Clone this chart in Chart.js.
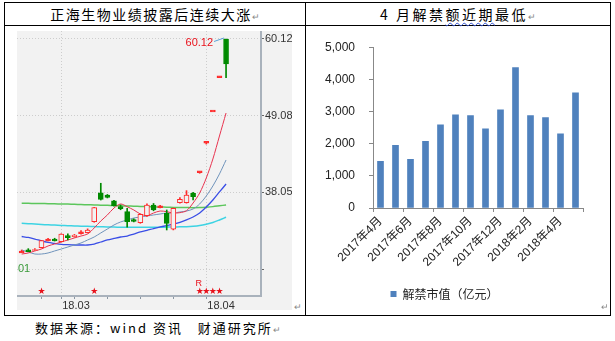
<!DOCTYPE html>
<html>
<head>
<meta charset="utf-8">
<script src="https://cdn.jsdelivr.net/npm/chart.js@4.4.0/dist/chart.umd.min.js"></script>
<style>
  html, body { margin: 0; padding: 0; background: #fff; }
  body { width: 615px; height: 341px; position: relative; overflow: hidden; font-family: "Noto Sans CJK SC", sans-serif; color: #000; }
  .frame { position: absolute; left: 4px; top: 2px; width: 607px; height: 314px; border: 1px solid #000; box-sizing: border-box; }
  .hline { position: absolute; left: 4px; top: 25px; width: 607px; height: 1px; background: #000; }
  .vline { position: absolute; left: 305px; top: 2px; width: 1px; height: 314px; background: #000; }
  .title { position: absolute; top: 3px; height: 22px; line-height: 22px; text-align: center; font-size: 14px; letter-spacing: 1.5px; white-space: nowrap; }
  .wavy { text-decoration: underline wavy #3050d0; text-decoration-thickness: 1px; text-underline-offset: 2px; }
  .mark { font-size: 9px; color: #888; letter-spacing: 0; }
  .cellmark { position: absolute; font-size: 9px; color: #888; }
  #klineWrap { position: absolute; left: 17px; top: 31px; width: 275px; height: 279px; background: #f2f2f2; }
  #barWrap { position: absolute; left: 306px; top: 26px; width: 304px; height: 288px; }
  .caption { position: absolute; left: 35px; top: 318px; font-size: 13px; letter-spacing: 2px; white-space: nowrap; }
</style>
</head>
<body>
<div class="frame"></div>
<div class="hline"></div>
<div class="vline"></div>
<div class="title" style="left:5px;width:300px;">正海生物业绩披露后连续大涨<span class="mark">↵</span></div>
<div class="title" style="left:306px;width:304px;letter-spacing:2.5px;">4 月解禁<span class="wavy">额近期</span>最低<span class="mark">↵</span></div>
<div id="klineWrap"><canvas id="klineChart" width="275" height="279"></canvas></div>
<div id="barWrap"><canvas id="unlockChart" width="304" height="288"></canvas></div>
<div class="cellmark" style="left:294px;top:300px;">↵</div>
<div class="cellmark" style="left:601px;top:300px;">↵</div>
<div class="caption">数据来源：wind 资讯&nbsp;&nbsp;&nbsp;财通研究所<span class="mark">↵</span></div>

<script>
// ---- Left panel: daily candles (index 1..32) ----
const opens  = [29.45, 29.68, 29.70, 30.09, 31.15, 31.22, 30.95, 31.82, 31.68, 32.20, 32.25, 33.83, 38.00, 37.67, 36.85, 35.99,
                35.27, 34.02, 33.69, 34.70, 36.24, 35.95, 35.04, 32.74, 36.57, 36.57, 37.92, 41.03, 45.26, 49.76, 54.70, 60.12];
const highs  = [29.75, 29.95, 29.95, 31.15, 31.45, 31.45, 32.10, 32.10, 32.00, 32.55, 32.80, 35.90, 39.36, 37.75, 36.90, 36.25,
                35.76, 34.25, 34.95, 36.40, 36.45, 36.20, 35.52, 35.80, 37.30, 38.30, 38.05, 41.03, 45.26, 49.76, 54.70, 60.12];
const lows   = [29.40, 29.55, 29.65, 30.05, 31.05, 31.05, 30.90, 31.20, 31.60, 32.05, 32.20, 33.75, 36.95, 37.25, 36.05, 35.55,
                33.03, 33.80, 33.60, 34.60, 35.40, 35.80, 32.64, 32.65, 36.50, 36.50, 36.95, 40.80, 45.00, 49.76, 54.70, 54.55];
const closes = [29.50, 29.64, 29.82, 31.10, 31.22, 31.18, 32.06, 31.53, 31.92, 32.28, 32.64, 35.85, 37.05, 37.34, 36.13, 35.70,
                33.83, 33.96, 34.90, 36.24, 35.52, 35.99, 33.60, 35.76, 37.05, 37.67, 37.43, 41.03, 45.26, 49.76, 54.70, 56.52];

// moving averages
const ma5   = [29.18, 29.33, 29.62, 29.90, 30.34, 30.62, 30.91, 31.20, 31.49, 31.77, 32.06, 32.93, 33.93, 34.80, 35.80, 36.38,
               35.99, 35.52, 34.94, 34.70, 35.08, 35.37, 35.27, 35.08, 35.13, 35.41, 36.52, 37.96, 40.12, 42.85, 46.16, 49.47];
const ma10  = [29.76, 29.47, 29.18, 29.18, 29.33, 29.62, 29.90, 30.19, 30.48, 30.77, 31.20, 31.63, 32.21, 32.78, 33.36, 33.79,
               34.08, 34.36, 34.51, 34.65, 34.80, 34.94, 35.08, 35.08, 35.23, 35.37, 35.66, 36.38, 37.53, 38.97, 40.70, 42.71];
const ma20  = [31.70, 31.56, 31.34, 31.06, 30.84, 30.70, 30.58, 30.52, 30.48, 30.48, 30.48, 30.62, 30.91, 31.20, 31.42, 31.63,
               31.77, 32.06, 32.35, 32.57, 32.85, 33.07, 33.28, 33.50, 33.72, 34.08, 34.51, 35.08, 35.95, 36.95, 38.11, 39.26];
const ma60  = [36.48, 36.47, 36.46, 36.44, 36.43, 36.41, 36.38, 36.36, 36.33, 36.30, 36.27, 36.24, 36.21, 36.18, 36.15, 36.12,
               36.09, 36.06, 36.03, 36.00, 35.97, 35.95, 35.92, 35.89, 35.87, 35.86, 35.85, 35.86, 35.92, 36.00, 36.12, 36.24];
const ma120 = [33.60, 33.55, 33.49, 33.43, 33.38, 33.34, 33.30, 33.25, 33.22, 33.19, 33.16, 33.13, 33.10, 33.07, 33.06, 33.04,
               33.03, 33.03, 33.03, 33.03, 33.03, 33.04, 33.06, 33.07, 33.09, 33.11, 33.17, 33.28, 33.47, 33.72, 34.08, 34.47];

const priceTicks = [27.01, 38.05, 49.08, 60.12];
const dateTicks = [4, 7, 9, 14, 19, 24, 29];
const dateLabels = { 7: '18.03', 29: '18.04' };
const starIdx = [4, 12, 28, 29, 30, 31];
const rIdx = 28;
const peakIdx = 32;
const peakValue = 60.12;

// ---- Right panel: monthly unlock value (亿元) ----
const months = ['2017年4月', '2017年5月', '2017年6月', '2017年7月', '2017年8月', '2017年9月', '2017年10月',
                '2017年11月', '2017年12月', '2018年1月', '2018年2月', '2018年3月', '2018年4月', '2018年5月'];
const unlockValues = [1450, 1950, 1510, 2070, 2590, 2900, 2870, 2460, 3050, 4370, 2870, 2810, 2310, 3580];

const upColor = '#ff2b2b';
const downColor = '#008a00';
const panelBg = '#f2f2f2';

// Candlestick via two overlapping floating bar datasets
const isUp = closes.map((c, i) => c >= opens[i]);
const isFlat = closes.map((c, i) => Math.abs(c - opens[i]) < 0.12);
const bodyData = opens.map((o, i) => {
  let lo = Math.min(o, closes[i]), hi = Math.max(o, closes[i]);
  // one-price days still need a visible dash
  if (isFlat[i]) { const m = (hi + lo) / 2; lo = m - 0.13; hi = m + 0.13; }
  return { x: i + 1, y: [lo, hi] };
});
const wickData = opens.map((o, i) => ({ x: i + 1, y: [lows[i], highs[i]] }));
const toPoints = arr => arr.map((v, i) => ({ x: i + 1, y: v }));
const maLine = (data, color, width) => ({
  type: 'line', data: toPoints(data), borderColor: color, borderWidth: width,
  pointRadius: 0, tension: 0.3, order: 2
});

// Stars, R marker, peak callout and the clipped left label
const klineMarks = {
  id: 'klineMarks',
  afterDatasetsDraw(chart) {
    const { ctx, chartArea } = chart;
    const x = chart.scales.x, y = chart.scales.y;
    ctx.save();
    ctx.fillStyle = '#e8101a';
    ctx.textAlign = 'center';
    ctx.textBaseline = 'middle';
    ctx.font = '9px "DejaVu Sans"';
    starIdx.forEach(i => ctx.fillText('★', x.getPixelForValue(i), chartArea.bottom - 4));
    ctx.font = '9px "Liberation Sans"';
    ctx.fillText('R', x.getPixelForValue(rIdx) - 1, chartArea.bottom - 12);

    const px = x.getPixelForValue(peakIdx), py = y.getPixelForValue(peakValue);
    ctx.strokeStyle = '#5aa3d6';
    ctx.lineWidth = 1;
    ctx.beginPath();
    ctx.moveTo(px - 12, py + 2.5);
    ctx.lineTo(px - 2, py - 1);
    ctx.stroke();
    ctx.font = '11px "Liberation Sans"';
    ctx.textAlign = 'right';
    ctx.fillText('60.12', px - 13, py + 3.5);

    ctx.fillStyle = '#3a9a3a';
    ctx.textAlign = 'left';
    ctx.fillText('01', chartArea.left + 1, y.getPixelForValue(priceTicks[0]));
    ctx.restore();
  }
};

new Chart(document.getElementById('klineChart'), {
  data: {
    datasets: [
      { type: 'bar', data: bodyData, order: 0, grouped: false, barThickness: 5,
        backgroundColor: isUp.map((u, i) => isFlat[i] ? (u ? upColor : downColor) : (u ? panelBg : downColor)),
        borderColor: isUp.map(u => u ? upColor : downColor),
        borderWidth: 1, borderSkipped: false },
      { type: 'bar', data: wickData, order: 1, grouped: false, barThickness: 1,
        backgroundColor: isUp.map(u => u ? upColor : downColor), borderWidth: 0 },
      maLine(ma5, '#e8334f', 1),
      maLine(ma10, '#6f93bb', 1),
      maLine(ma20, '#3a4ee6', 1.3),
      maLine(ma60, '#5cc65c', 1.5),
      maLine(ma120, '#3dd3e3', 1.5)
    ]
  },
  options: {
    responsive: false,
    animation: false,
    layout: { padding: 0 },
    plugins: { legend: { display: false }, tooltip: { enabled: false } },
    scales: {
      x: {
        type: 'linear', min: 0.29, max: 37.3, offset: false,
        afterBuildTicks: s => { s.ticks = dateTicks.map(v => ({ value: v })); },
        afterFit: s => { s.height = 14; s.paddingLeft = 0; s.paddingRight = 0; },
        grid: {
          offset: false,
          color: c => (c.tick && dateLabels[c.tick.value]) ? '#cdcdcd' : 'rgba(0,0,0,0)',
          tickColor: '#8a96a3', tickLength: 3
        },
        border: { color: '#a9b2bc', width: 2, dash: [1, 2] },
        ticks: {
          autoSkip: false, maxRotation: 0, align: 'start', padding: 0, labelOffset: 1,
          color: '#333', font: { family: 'Liberation Sans', size: 11 },
          callback: v => dateLabels[v] || ''
        }
      },
      y: {
        position: 'right', min: 23.14, max: 61.27,
        afterBuildTicks: s => { s.ticks = priceTicks.map(v => ({ value: v })); },
        afterFit: s => { s.width = 31; s.paddingTop = 0; s.paddingBottom = 0; },
        grid: { color: '#cdcdcd', tickColor: '#666', tickLength: 3 },
        border: { color: '#a9b2bc', width: 2, dash: [1, 2] },
        ticks: {
          padding: 1, color: '#333', font: { family: 'Liberation Sans', size: 11 },
          callback: v => v === priceTicks[0] ? '' : v.toFixed(2)
        }
      }
    }
  },
  plugins: [klineMarks]
});

// ---- Right panel ----
new Chart(document.getElementById('unlockChart'), {
  type: 'bar',
  data: {
    labels: months,
    datasets: [{
      label: '解禁市值（亿元）',
      data: unlockValues,
      backgroundColor: '#4f81bd',
      barThickness: 6
    }]
  },
  options: {
    responsive: false,
    animation: false,
    layout: { padding: { top: 20, right: 27, left: 0, bottom: 4 } },
    plugins: {
      tooltip: { enabled: false },
      legend: {
        position: 'bottom',
        labels: {
          boxWidth: 6, boxHeight: 6, padding: 10, color: '#222',
          font: { family: '"Noto Sans CJK SC"', size: 12 }
        }
      }
    },
    scales: {
      x: {
        afterFit: s => { s.height = 70; },
        grid: {
          drawOnChartArea: false, tickLength: 4,
          tickColor: c => (c.index === undefined || c.index % 2 === 0) ? '#888' : 'rgba(0,0,0,0)'
        },
        border: { color: '#888' },
        ticks: {
          autoSkip: false, minRotation: 45, maxRotation: 45, padding: 2,
          color: '#222', font: { family: '"Liberation Sans", "Noto Sans CJK SC"', size: 12 },
          callback: (v, i) => i % 2 === 0 ? months[i] : ''
        }
      },
      y: {
        min: 0, max: 5000,
        afterFit: s => { s.width = 67; },
        grid: { drawOnChartArea: false, tickLength: 4, tickColor: '#888' },
        border: { color: '#888' },
        ticks: {
          stepSize: 500, padding: 14, color: '#222',
          font: { family: 'Liberation Sans', size: 12 },
          callback: v => v.toLocaleString('en-US')
        }
      }
    }
  }
});
</script>
</body>
</html>
